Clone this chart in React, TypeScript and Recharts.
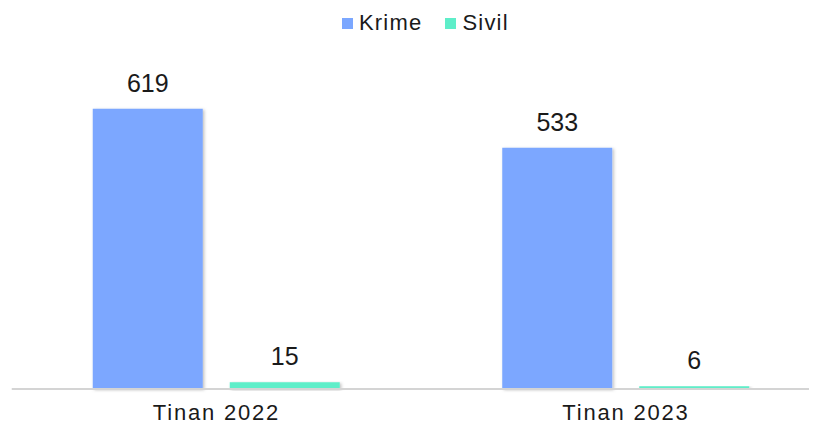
import { Bar, BarChart, LabelList, Legend, XAxis, YAxis } from "recharts";

const categories = ["Tinan 2022", "Tinan 2023"];
const krime = [619, 533];
const sivil = [15, 6];

const seriesNames = { krime: "Krime", sivil: "Sivil" };
const colors = { krime: "#7ba7ff", sivil: "#5eeec9" };

const data = categories.map((name, i) => ({ name, krime: krime[i], sivil: sivil[i] }));

const FONT = '"Liberation Sans", Arial, Helvetica, sans-serif';

function ChartLegend() {
  const items = [
    { key: "krime", label: seriesNames.krime, color: colors.krime },
    { key: "sivil", label: seriesNames.sivil, color: colors.sivil },
  ];
  return (
    <div
      style={{
        display: "flex",
        justifyContent: "center",
        alignItems: "center",
        height: 30,
        paddingLeft: 12,
        fontFamily: FONT,
        fontSize: 22,
        color: "#1a1a1a",
      }}
    >
      {items.map((it, i) => (
        <div
          key={it.key}
          style={{ display: "flex", alignItems: "center", marginRight: i === 0 ? 23 : 0 }}
        >
          <span style={{ width: 11, height: 11, background: it.color, marginRight: 6, display: "inline-block" }} />
          <span style={{ letterSpacing: 1.2 }}>{it.label}</span>
        </div>
      ))}
    </div>
  );
}

export default function App() {
  return (
    <div style={{ width: 809, overflow: "hidden" }}>
      <BarChart
        width={822.75}
        height={417}
        data={data}
        margin={{ top: 34, right: 0, left: 3.75, bottom: 0 }}
        barSize={110}
        barGap={27}
      >
        <defs>
          <filter id="barShadow" x="-10%" y="-10%" width="130%" height="130%">
            <feDropShadow dx="1.5" dy="1" stdDeviation="1.5" floodColor="#000" floodOpacity="0.25" />
          </filter>
        </defs>
        <Legend
          verticalAlign="top"
          wrapperStyle={{ top: 0, left: 0, width: 822.75, height: 30 }}
          content={() => <ChartLegend />}
        />
        <XAxis
          dataKey="name"
          axisLine={{ stroke: "#d4d4d4", strokeWidth: 2 }}
          tickLine={false}
          tickSize={0}
          tickMargin={15}
          height={36}
          tick={{ fill: "#1a1a1a", fontSize: 22, fontFamily: FONT, letterSpacing: 1.8 }}
        />
        <YAxis hide domain={[0, 700]} />
        <Bar dataKey="krime" name={seriesNames.krime} fill={colors.krime} filter="url(#barShadow)" isAnimationActive={false}>
          <LabelList dataKey="krime" position="top" offset={17} fill="#1a1a1a" fontSize={25} fontFamily={FONT} />
        </Bar>
        <Bar dataKey="sivil" name={seriesNames.sivil} fill={colors.sivil} filter="url(#barShadow)" isAnimationActive={false}>
          <LabelList dataKey="sivil" position="top" offset={17} fill="#1a1a1a" fontSize={25} fontFamily={FONT} />
        </Bar>
      </BarChart>
    </div>
  );
}
